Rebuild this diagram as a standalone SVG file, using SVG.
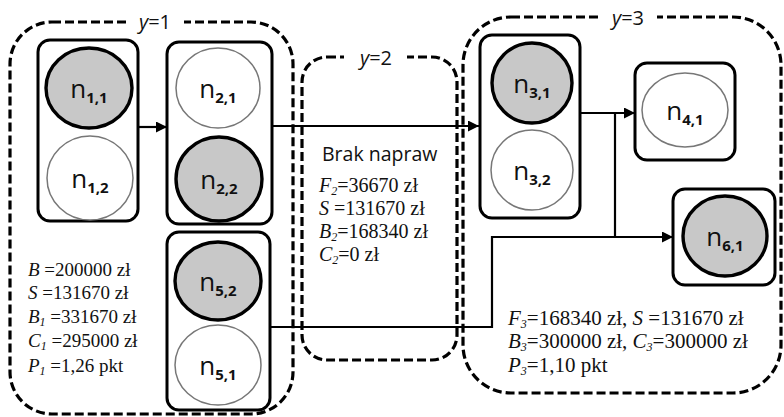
<svg xmlns="http://www.w3.org/2000/svg" width="784" height="417" viewBox="0 0 784 417">
<defs>
<marker id="arr" viewBox="0 0 10 10" refX="10" refY="5" markerWidth="11" markerHeight="11" markerUnits="userSpaceOnUse" orient="auto">
<path d="M0,0 L10,5 L0,10 z" fill="#000"/>
</marker>
<style>
.grp{fill:none;stroke:#000;stroke-width:3.2;stroke-dasharray:9 4}
.box{fill:#fff;stroke:#000;stroke-width:3}
.on{fill:#c8c8c8;stroke:#000;stroke-width:3.4}
.off{fill:#fff;stroke:#777;stroke-width:1.5}
.lbl{font-family:"Open Sans","Liberation Sans",sans-serif;font-size:26px;fill:#111;text-anchor:middle}
.sub{font-size:15px;font-weight:bold}
.gl{font-family:"Open Sans","Liberation Sans",sans-serif;font-size:20px;fill:#111;text-anchor:middle}
.tx{font-family:"Liberation Serif","Times New Roman",serif;font-size:19px;fill:#111}
.it{font-style:italic}
.si{font-style:italic;font-size:12px}
.con{fill:none;stroke:#000;stroke-width:2.2}
.sans{font-family:"Open Sans","Liberation Sans",sans-serif;font-size:19.5px;fill:#111}
</style>
</defs>
<rect width="784" height="417" fill="#fff"/>
<g id="group-y1">
<rect class="grp" x="10" y="22" width="283" height="392" rx="42"/>
<rect x="126" y="10" width="58" height="24" fill="#fff"/>
<text class="gl" x="155" y="29"><tspan font-style="italic">y</tspan>=1</text>
</g>
<g id="group-y2">
<rect class="grp" x="302" y="57" width="155" height="303" rx="25"/>
<rect x="344" y="46" width="63" height="22" fill="#fff"/>
<text class="gl" x="376" y="65"><tspan font-style="italic">y</tspan>=2</text>
</g>
<g id="group-y3">
<rect class="grp" x="463" y="17" width="318" height="376" rx="48"/>
<rect x="601" y="5" width="56" height="24" fill="#fff"/>
<text class="gl" x="628" y="25"><tspan font-style="italic">y</tspan>=3</text>
</g>
<g id="connectors">
<line class="con" x1="138" y1="127" x2="167" y2="127" marker-end="url(#arr)"/>
<line class="con" x1="272" y1="126" x2="479" y2="126" marker-end="url(#arr)"/>
<line class="con" x1="580" y1="113" x2="635" y2="113" marker-end="url(#arr)"/>
<polyline class="con" points="615,113 615,237"/>
<polyline class="con" points="270,327 492,327 492,237 673,237" marker-end="url(#arr)"/>
</g>
<g id="n1">
<rect class="box" x="38" y="40" width="100" height="181" rx="12"/>
<ellipse class="on" cx="89" cy="88" rx="43" ry="40"/>
<text class="lbl" x="89" y="98">n<tspan class="sub" dy="5">1,1</tspan></text>
<ellipse class="off" cx="90" cy="178" rx="43" ry="42"/>
<text class="lbl" x="90" y="188">n<tspan class="sub" dy="5">1,2</tspan></text>
</g>
<g id="n2">
<rect class="box" x="167" y="42" width="105" height="182" rx="12"/>
<ellipse class="off" cx="218" cy="88" rx="42" ry="40"/>
<text class="lbl" x="218" y="98">n<tspan class="sub" dy="5">2,1</tspan></text>
<ellipse class="on" cx="219" cy="179" rx="43" ry="42"/>
<text class="lbl" x="219" y="189">n<tspan class="sub" dy="5">2,2</tspan></text>
</g>
<g id="n5">
<rect class="box" x="167" y="232" width="103" height="178" rx="12"/>
<ellipse class="on" cx="218" cy="281" rx="43" ry="39"/>
<text class="lbl" x="218" y="291">n<tspan class="sub" dy="5">5,2</tspan></text>
<ellipse class="off" cx="218" cy="365" rx="43" ry="40"/>
<text class="lbl" x="218" y="375">n<tspan class="sub" dy="5">5,1</tspan></text>
</g>
<g id="n3">
<rect class="box" x="480" y="35" width="100" height="183" rx="12"/>
<ellipse class="on" cx="532" cy="83" rx="40" ry="40"/>
<text class="lbl" x="532" y="93">n<tspan class="sub" dy="5">3,1</tspan></text>
<ellipse class="off" cx="532" cy="170" rx="41" ry="40"/>
<text class="lbl" x="532" y="180">n<tspan class="sub" dy="5">3,2</tspan></text>
</g>
<g id="n4">
<rect class="box" x="635" y="63" width="100" height="97" rx="12"/>
<ellipse class="off" cx="685" cy="110" rx="43" ry="37"/>
<text class="lbl" x="685" y="120">n<tspan class="sub" dy="5">4,1</tspan></text>
</g>
<g id="n6">
<rect class="box" x="673" y="189" width="102" height="96" rx="12"/>
<ellipse class="on" cx="725" cy="236" rx="42" ry="40"/>
<text class="lbl" x="725" y="246">n<tspan class="sub" dy="5">6,1</tspan></text>
</g>
<g id="text-y1" class="tx">
<text x="28" y="276"><tspan class="it">B</tspan> =200000 zł</text>
<text x="28" y="299"><tspan class="it">S</tspan> =131670 zł</text>
<text x="28" y="323"><tspan class="it">B</tspan><tspan class="si" dy="3">1</tspan><tspan dy="-3"> =331670 zł</tspan></text>
<text x="28" y="347"><tspan class="it">C</tspan><tspan class="si" dy="3">1</tspan><tspan dy="-3"> =295000 zł</tspan></text>
<text x="28" y="372"><tspan class="it">P</tspan><tspan class="si" dy="3">1</tspan><tspan dy="-3"> =1,26 pkt</tspan></text>
</g>
<g id="text-y2">
<text class="sans" x="322" y="161">Brak napraw</text>
<g class="tx" style="font-size:20px">
<text x="319" y="192"><tspan class="it">F</tspan><tspan class="si" dy="3">2</tspan><tspan dy="-3">=36670 zł</tspan></text>
<text x="319" y="215"><tspan class="it">S</tspan> =131670 zł</text>
<text x="319" y="238"><tspan class="it">B</tspan><tspan class="si" dy="3">2</tspan><tspan dy="-3">=168340 zł</tspan></text>
<text x="319" y="261"><tspan class="it">C</tspan><tspan class="si" dy="3">2</tspan><tspan dy="-3">=0 zł</tspan></text>
</g>
</g>
<g id="text-y3" class="tx" style="font-size:21px">
<text x="508" y="325"><tspan class="it">F</tspan><tspan class="si" dy="3">3</tspan><tspan dy="-3">=168340 zł, </tspan><tspan class="it">S</tspan> =131670 zł</text>
<text x="508" y="348"><tspan class="it">B</tspan><tspan class="si" dy="3">3</tspan><tspan dy="-3">=300000 zł, </tspan><tspan class="it">C</tspan><tspan class="si" dy="3">3</tspan><tspan dy="-3">=300000 zł</tspan></text>
<text x="508" y="372"><tspan class="it">P</tspan><tspan class="si" dy="3">3</tspan><tspan dy="-3">=1,10 pkt</tspan></text>
</g>
</svg>
